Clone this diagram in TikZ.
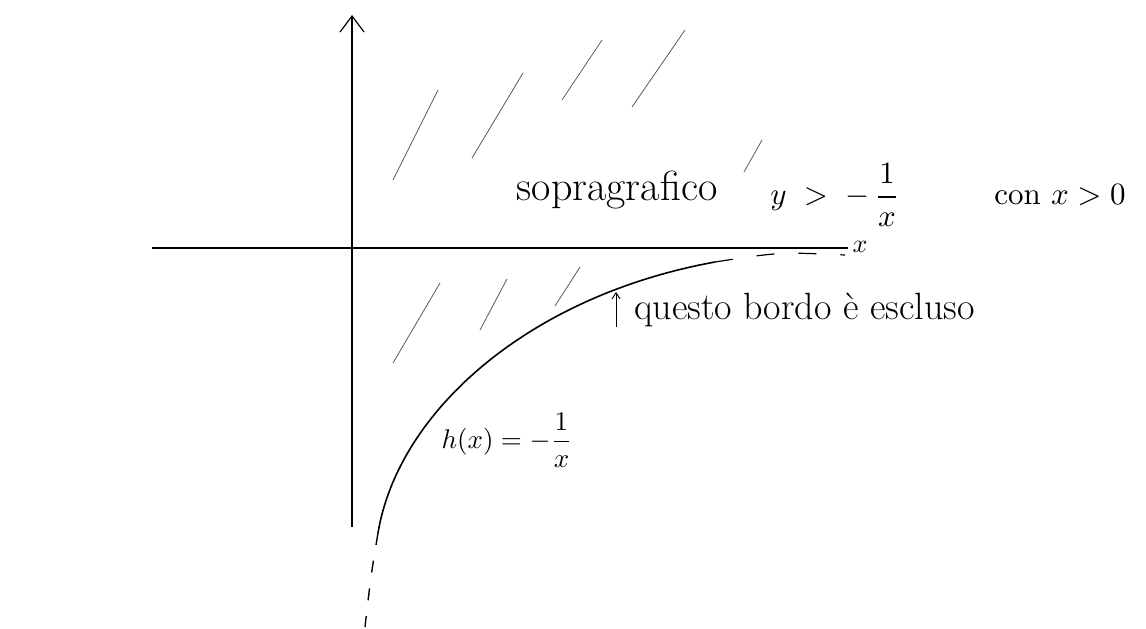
\documentclass[tikz,border=0pt]{standalone}
\usepackage{fontspec}
\usetikzlibrary{arrows.meta}
\begin{document}
\begin{tikzpicture}[x=1pt,y=-1pt,
  axis/.style={line width=1.6pt},
  hatch/.style={line width=0.8pt, black!65},
  curve/.style={line width=1.6pt},
  lbl/.style={inner sep=0pt, anchor=center}]
\useasboundingbox (0,0) rectangle (1146,629);
% axes
\coordinate (xl) at (152,248);
\coordinate (xr) at (848,248);
\coordinate (yb) at (352,527);
\coordinate (yt) at (352,15);
\draw[axis] (xl) -- (xr);
\node[lbl, scale=2.6] (xlab) at (860,247) {$x$};
\draw[axis, -{Straight Barb[length=16pt,width=24pt,line width=1.2pt]}] (yb) -- (yt);
% hatching above
\draw[hatch] (393,180) -- (438,90);
\draw[hatch] (472,158) -- (523,73);
\draw[hatch] (562,100) -- (602,40);
\draw[hatch] (632,107) -- (685,30);
\draw[hatch] (744,172) -- (762,140);
% hatching below
\draw[hatch] (393,363) -- (440,283);
\draw[hatch] (480,330) -- (507,279);
\draw[hatch] (555,306) -- (580,267);
% curve
\coordinate (c0) at (378,533);
\coordinate (c1) at (715,262);
\coordinate (c2) at (845,255);
\coordinate (c3) at (365,627);
\draw[curve] (c0) .. controls (398,412) and (528,296) .. (c1);
\draw[line width=1.2pt, dash pattern=on 18pt off 24pt] (c1) .. controls (780,252) .. (c2);
\draw[line width=1.4pt, dash pattern=on 12pt off 16pt] (c0) .. controls (371,575) .. (c3);
% labels
\node[lbl, font=\fontsize{42}{46}\selectfont] (sopra) at (617,190) {sopragrafico};
\node[lbl, scale=3.1] (ineq) at (835,195) {$\displaystyle y \;>\; -\,\frac{1}{x}$};
\node[lbl, scale=3.1] (con) at (1060,195) {con $x>0$};
\coordinate (ab) at (616,327);
\coordinate (at) at (616,292);
\draw[line width=1pt, -{Straight Barb[length=6pt,width=8pt]}] (ab) -- (at);
\node[lbl, font=\fontsize{38}{42}\selectfont, anchor=west] (bordo) at (634,310) {questo bordo è escluso};
\node[lbl, scale=2.7] (hx) at (507,440) {$\displaystyle h(x) = -\frac{1}{x}$};
\end{tikzpicture}
\end{document}
